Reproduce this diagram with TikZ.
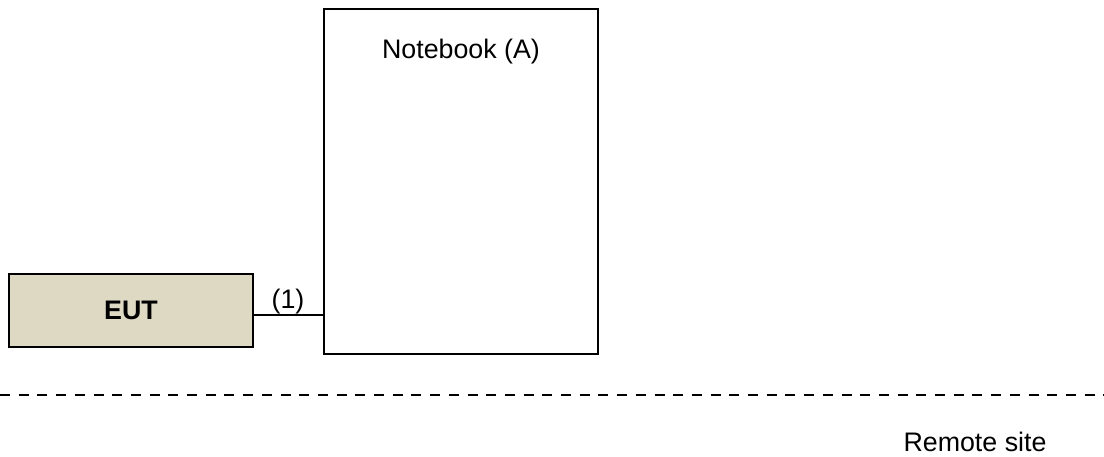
\documentclass[tikz,border=0pt]{standalone}
\usepackage{fontspec}
\setmainfont{Liberation Sans}
\begin{document}
\begin{tikzpicture}[x=1pt,y=-1pt,
  box/.style={draw=black,line width=2.2pt,inner sep=0pt},
  lbl/.style={font=\fontsize{26.8}{32}\selectfont,inner sep=0pt}]
\useasboundingbox (0,0) rectangle (1104,456);
\definecolor{euttan}{RGB}{221,217,195}
\node[box,fill=euttan,minimum width=244pt,minimum height=73pt,font=\fontsize{26.8}{32}\selectfont\bfseries] (eut) at (131,310.5) {EUT};
\node[box,minimum width=274pt,minimum height=345pt] (nb) at (461,181.5) {};
\node[lbl] (nbl) at (461,52) {Notebook (A)};
\draw[line width=2.2pt] (eut.east |- 0,315) coordinate (c1) -- (nb.west |- 0,315) coordinate (c2);
\node[lbl] (one) at (288,302) {(1)};
\coordinate (dl) at (0,395);
\coordinate (dr) at (1104,395);
\draw[line width=2.4pt,dash pattern=on 10pt off 8.7pt] (dl) -- (dr);
\node[lbl] (rs) at (975,442) {Remote site};
\end{tikzpicture}
\end{document}
